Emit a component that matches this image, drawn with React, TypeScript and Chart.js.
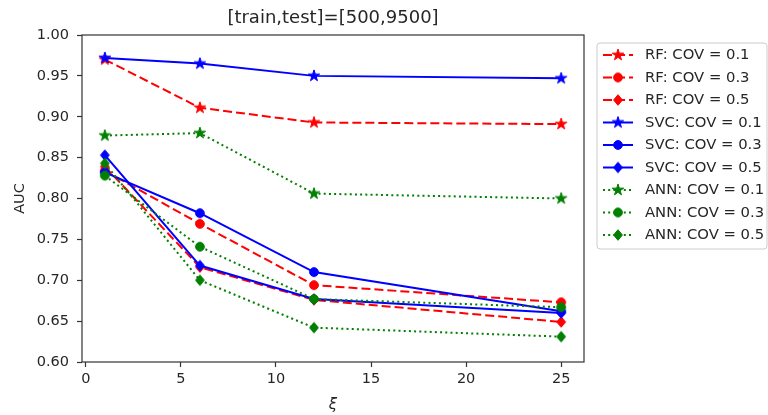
import React, { useEffect, useRef } from "react";
import { Chart, registerables } from "chart.js";

Chart.register(...registerables);

const XS = [1, 6, 12, 25];
const RF_01 = [0.970, 0.911, 0.893, 0.891];
const RF_03 = [0.834, 0.769, 0.694, 0.673];
const RF_05 = [0.839, 0.716, 0.676, 0.649];
const SVC_01 = [0.972, 0.965, 0.950, 0.947];
const SVC_03 = [0.832, 0.782, 0.710, 0.662];
const SVC_05 = [0.853, 0.718, 0.677, 0.660];
const ANN_01 = [0.877, 0.880, 0.806, 0.800];
const ANN_03 = [0.828, 0.741, 0.677, 0.667];
const ANN_05 = [0.843, 0.700, 0.642, 0.631];

const X_TICKS = [0, 5, 10, 15, 20, 25];
const Y_TICKS = [0.6, 0.65, 0.7, 0.75, 0.8, 0.85, 0.9, 0.95, 1.0];
const TITLE = "[train,test]=[500,9500]";
const Y_LABEL = "AUC";
const X_LABEL = "ξ";

const RED = "#ff0000";
const BLUE = "#0000ff";
const GREEN = "#008000";
const DASHED = [9, 4];
const DOTTED = [2, 3.2];

type Shape = "star" | "circle" | "diamond";

function makeMarker(shape: Shape, color: string): HTMLCanvasElement {
  const size = 16;
  const c = document.createElement("canvas");
  c.width = size;
  c.height = size;
  const ctx = c.getContext("2d")!;
  const cx = size / 2;
  const cy = size / 2;
  ctx.fillStyle = color;
  ctx.strokeStyle = color;
  ctx.lineWidth = 1;
  ctx.beginPath();
  if (shape === "star") {
    const ro = 6;
    const ri = ro * 0.382;
    for (let i = 0; i < 10; i++) {
      const r = i % 2 === 0 ? ro : ri;
      const a = -Math.PI / 2 + (i * Math.PI) / 5;
      const x = cx + r * Math.cos(a);
      const y = cy + r * Math.sin(a);
      if (i === 0) ctx.moveTo(x, y);
      else ctx.lineTo(x, y);
    }
    ctx.closePath();
  } else if (shape === "circle") {
    ctx.arc(cx, cy, 4.4, 0, Math.PI * 2);
  } else {
    ctx.moveTo(cx, cy - 5.3);
    ctx.lineTo(cx + 4.4, cy);
    ctx.lineTo(cx, cy + 5.3);
    ctx.lineTo(cx - 4.4, cy);
    ctx.closePath();
  }
  ctx.fill();
  ctx.stroke();
  return c;
}

const SERIES: { label: string; data: number[]; color: string; dash: number[]; shape: Shape }[] = [
  { label: "RF: COV = 0.1", data: RF_01, color: RED, dash: DASHED, shape: "star" },
  { label: "RF: COV = 0.3", data: RF_03, color: RED, dash: DASHED, shape: "circle" },
  { label: "RF: COV = 0.5", data: RF_05, color: RED, dash: DASHED, shape: "diamond" },
  { label: "SVC: COV = 0.1", data: SVC_01, color: BLUE, dash: [], shape: "star" },
  { label: "SVC: COV = 0.3", data: SVC_03, color: BLUE, dash: [], shape: "circle" },
  { label: "SVC: COV = 0.5", data: SVC_05, color: BLUE, dash: [], shape: "diamond" },
  { label: "ANN: COV = 0.1", data: ANN_01, color: GREEN, dash: DOTTED, shape: "star" },
  { label: "ANN: COV = 0.3", data: ANN_03, color: GREEN, dash: DOTTED, shape: "circle" },
  { label: "ANN: COV = 0.5", data: ANN_05, color: GREEN, dash: DOTTED, shape: "diamond" },
];

const FONT = "DejaVu Sans";
const TEXT = "#262626";

export default function App() {
  const ref = useRef<HTMLCanvasElement>(null);

  useEffect(() => {
    if (!ref.current) return;
    const markers = SERIES.map((s) => makeMarker(s.shape, s.color));

    const decor = {
      id: "decor",
      afterDraw(chart: any) {
        const ctx = chart.ctx as CanvasRenderingContext2D;
        const a = chart.chartArea;
        ctx.save();
        // frame
        ctx.strokeStyle = "#333";
        ctx.lineWidth = 1.2;
        ctx.setLineDash([]);
        ctx.strokeRect(a.left, a.top, a.right - a.left, a.bottom - a.top);
        // title
        ctx.fillStyle = TEXT;
        ctx.textAlign = "center";
        ctx.textBaseline = "middle";
        ctx.font = `18px '${FONT}'`;
        ctx.fillText(TITLE, (a.left + a.right) / 2, 18);
        // y label
        ctx.font = `14.5px '${FONT}'`;
        ctx.save();
        ctx.translate(20, (a.top + a.bottom) / 2);
        ctx.rotate(-Math.PI / 2);
        ctx.fillText(Y_LABEL, 0, 0);
        ctx.restore();
        // x label
        ctx.font = `italic 15px '${FONT}'`;
        ctx.fillText(X_LABEL, (a.left + a.right) / 2, 405);
        // legend
        const lx = 597, ly = 43, lw = 170, lh = 206, r = 3;
        ctx.beginPath();
        ctx.moveTo(lx + r, ly);
        ctx.lineTo(lx + lw - r, ly);
        ctx.arcTo(lx + lw, ly, lx + lw, ly + r, r);
        ctx.lineTo(lx + lw, ly + lh - r);
        ctx.arcTo(lx + lw, ly + lh, lx + lw - r, ly + lh, r);
        ctx.lineTo(lx + r, ly + lh);
        ctx.arcTo(lx, ly + lh, lx, ly + lh - r, r);
        ctx.lineTo(lx, ly + r);
        ctx.arcTo(lx, ly, lx + r, ly, r);
        ctx.closePath();
        ctx.fillStyle = "rgba(255,255,255,0.8)";
        ctx.fill();
        ctx.strokeStyle = "#cccccc";
        ctx.lineWidth = 1;
        ctx.stroke();
        SERIES.forEach((s, i) => {
          const y = 55 + i * 22.5;
          ctx.beginPath();
          ctx.setLineDash(s.dash);
          ctx.lineDashOffset = 0;
          ctx.strokeStyle = s.color;
          ctx.lineWidth = 2;
          ctx.moveTo(603, y);
          ctx.lineTo(633, y);
          ctx.stroke();
          ctx.setLineDash([]);
          const m = markers[i];
          ctx.drawImage(m, 618 - m.width / 2, y - m.height / 2);
          ctx.fillStyle = TEXT;
          ctx.textAlign = "left";
          ctx.textBaseline = "middle";
          ctx.font = `14.8px '${FONT}'`;
          ctx.fillText(s.label, 645, y + 0.5);
        });
        ctx.restore();
      },
    };

    const chart = new Chart(ref.current, {
      type: "line",
      data: {
        datasets: SERIES.map((s, i) => ({
          label: s.label,
          data: XS.map((x, j) => ({ x, y: s.data[j] })),
          borderColor: s.color,
          backgroundColor: s.color,
          borderWidth: 2,
          borderDash: s.dash,
          pointStyle: markers[i] as any,
          pointRadius: 5,
          pointHoverRadius: 5,
          fill: false,
          tension: 0,
          order: SERIES.length - i,
        })),
      },
      options: {
        responsive: false,
        animation: false,
        events: [],
        layout: { padding: { top: 35, right: 184, left: 0, bottom: 0 } },
        plugins: {
          legend: { display: false },
          title: { display: false },
          tooltip: { enabled: false },
        },
        scales: {
          x: {
            type: "linear",
            min: -0.2,
            max: 26.2,
            afterBuildTicks: (scale: any) => {
              scale.ticks = X_TICKS.map((v) => ({ value: v }));
            },
            afterFit: (scale: any) => {
              scale.height = 53;
            },
            border: { display: false },
            grid: {
              drawOnChartArea: false,
              drawTicks: true,
              tickLength: 5,
              tickColor: "#333",
              tickWidth: 1.2,
            },
            ticks: {
              color: TEXT,
              font: { family: FONT, size: 14.5 },
              padding: 4,
              autoSkip: false,
              maxRotation: 0,
              callback: (v: any) => String(v),
            },
          },
          y: {
            type: "linear",
            min: 0.6,
            max: 1.0,
            afterBuildTicks: (scale: any) => {
              scale.ticks = Y_TICKS.map((v) => ({ value: v }));
            },
            afterFit: (scale: any) => {
              scale.width = 82;
            },
            border: { display: false },
            grid: {
              drawOnChartArea: false,
              drawTicks: true,
              tickLength: 5,
              tickColor: "#333",
              tickWidth: 1.2,
            },
            ticks: {
              color: TEXT,
              font: { family: FONT, size: 14.5 },
              padding: 8,
              autoSkip: false,
              callback: (v: any) => Number(v).toFixed(2),
            },
          },
        },
      },
      plugins: [decor],
    });
    return () => chart.destroy();
  }, []);

  return (
    <div style={{ position: "absolute", left: 0, top: 0, width: 768, height: 415, background: "#fff" }}>
      <canvas ref={ref} width={768} height={415} style={{ width: 768, height: 415 }} />
    </div>
  );
}
